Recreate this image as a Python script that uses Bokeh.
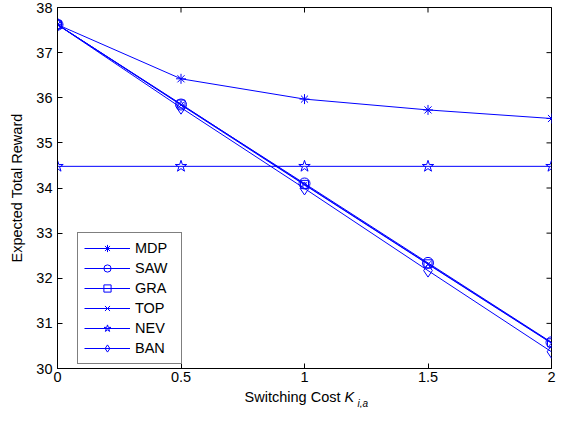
from bokeh.plotting import figure
from bokeh.layouts import column
from bokeh.models import FixedTicker, Range1d
from bokeh.core.properties import value
from bokeh.embed import file_html
from bokeh.resources import INLINE

# ---- data ----
switching_cost = [0, 0.5, 1, 1.5, 2]
mdp = [37.62, 36.42, 35.97, 35.73, 35.54]
saw = [37.62, 35.85, 34.10, 32.34, 30.58]
gra = [37.62, 35.86, 34.08, 32.32, 30.57]
top = [37.62, 35.84, 34.07, 32.31, 30.56]
nev = [34.48, 34.48, 34.48, 34.48, 34.48]
ban = [37.62, 35.78, 33.99, 32.17, 30.37]
x_ticks = [0, 0.5, 1, 1.5, 2]
x_tick_labels = ["0", "0.5", "1", "1.5", "2"]
y_ticks = [30, 31, 32, 33, 34, 35, 36, 37, 38]
x_title = "Switching Cost"
x_title_var = "K"
x_title_sub = "i,a"
y_title = "Expected Total Reward"

FONT = "Liberation Sans"
FS = "14.5px"
BLUE = "#0000ff"
W = 556
LB, RB = 57, 5

x_range = Range1d(0, 2)
p = figure(width=W, height=388, x_range=x_range, y_range=Range1d(30, 38),
           output_backend="svg", toolbar_location=None,
           min_border_left=LB, min_border_right=RB, min_border_top=7, min_border_bottom=20)
p.xgrid.visible = False
p.ygrid.visible = False
p.outline_line_color = "black"
p.outline_line_alpha = 1.0

for ax, ticks in ((p.xaxis[0], x_ticks), (p.yaxis[0], y_ticks)):
    ax.ticker = FixedTicker(ticks=ticks)
    ax.major_tick_in = 5
    ax.major_tick_out = 0
    ax.minor_tick_line_color = None
    ax.axis_line_color = "black"
    ax.major_tick_line_color = "black"
    ax.major_label_text_font = FONT
    ax.major_label_text_font_size = FS
    ax.major_label_text_color = "black"
    ax.major_label_standoff = 5

p.xaxis[0].major_label_standoff = 3
p.xaxis[0].major_label_overrides = {t: l for t, l in zip(x_ticks, x_tick_labels)}

p.yaxis[0].axis_label = y_title
p.yaxis[0].axis_label_text_font = FONT
p.yaxis[0].axis_label_text_font_size = FS
p.yaxis[0].axis_label_text_font_style = "normal"
p.yaxis[0].axis_label_text_color = "black"
p.yaxis[0].axis_label_standoff = 8

# mirrored inward ticks on top and right edges (MATLAB box style)
p.scatter(x_ticks, [38] * len(x_ticks), marker="dash", angle=1.5708, size=10,
          line_color="black", line_width=1)
p.scatter([2] * len(y_ticks), y_ticks, marker="dash", size=10,
          line_color="black", line_width=1)

series = [
    ("MDP", mdp, "asterisk", 10),
    ("SAW", saw, "circle", 11),
    ("GRA", gra, "square", 8),
    ("TOP", top, "x", 8),
    ("NEV", nev, "star", 12),
    ("BAN", ban, "diamond", 13),
]
for name, vals, marker, size in series:
    p.line(switching_cost, vals, line_color=BLUE, line_width=1, legend_label=name)
    p.scatter(switching_cost, vals, marker=marker, size=size, line_color=BLUE,
              fill_color=None, line_width=1, legend_label=name)

lg = p.legend[0]
lg.location = (20, 4)
lg.border_line_color = "black"
lg.border_line_width = 1
lg.background_fill_color = "white"
lg.background_fill_alpha = 1.0
lg.label_text_font = FONT
lg.label_text_font_size = FS
lg.label_text_color = "black"
lg.glyph_width = 46
lg.glyph_height = 18
lg.label_height = 18
lg.label_width = 40
lg.label_standoff = 5
lg.spacing = 2
lg.padding = 6
lg.margin = 0

# strip below: x-axis title with italic K and subscript (y = px from strip top)
p2 = figure(width=W, height=20, x_range=x_range, y_range=Range1d(20, 0),
            output_backend="svg", toolbar_location=None, x_axis_type=None, y_axis_type=None,
            min_border_left=LB, min_border_right=RB, min_border_top=0, min_border_bottom=0)
p2.grid.visible = False
p2.outline_line_color = None
p2.text(x=[1], y=[8], text=[x_title], x_offset=36, text_align="right",
        text_baseline="middle", text_font=value(FONT), text_font_size=FS, text_color="black")
p2.text(x=[1], y=[8], text=[x_title_var], x_offset=40, text_align="left",
        text_baseline="middle", text_font=value(FONT), text_font_size=FS,
        text_font_style="italic", text_color="black")
p2.text(x=[1], y=[14.5], text=[x_title_sub], x_offset=53, text_align="left",
        text_baseline="middle", text_font=value(FONT), text_font_size="10px",
        text_font_style="italic", text_color="black")

layout = column(p, p2, spacing=0)
open("out.html", "w").write(file_html(layout, INLINE))
